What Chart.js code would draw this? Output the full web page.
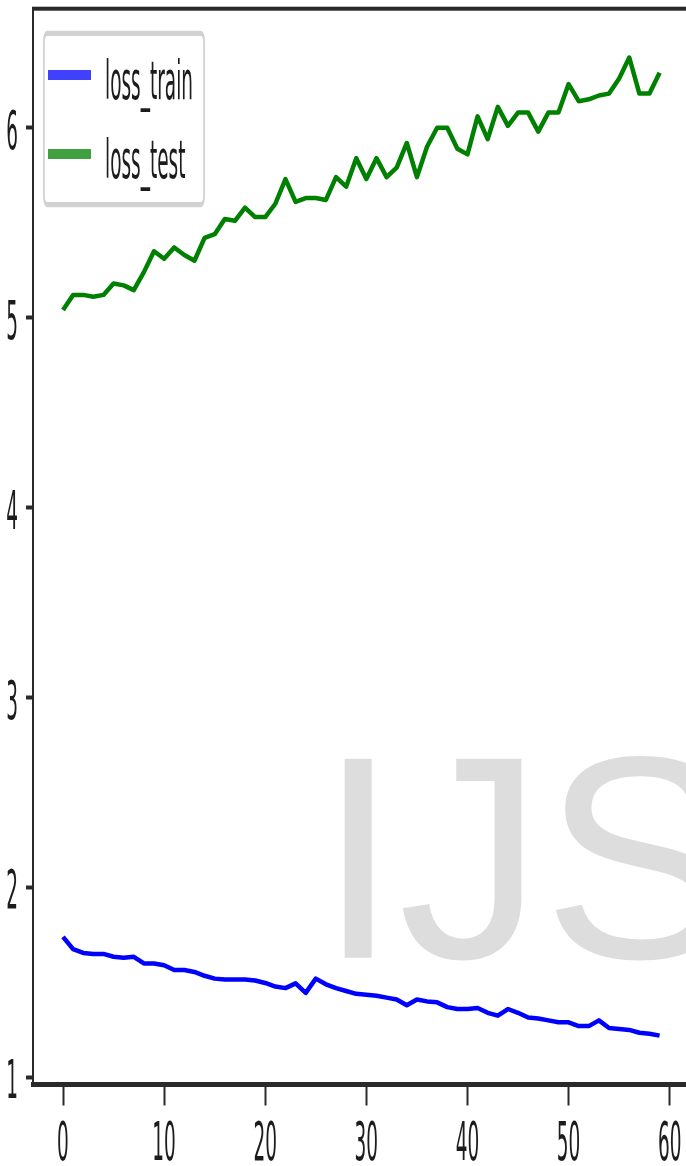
<!DOCTYPE html>
<html>
<head>
<meta charset="utf-8">
<script src="https://cdn.jsdelivr.net/npm/chart.js@4/dist/chart.umd.min.js"></script>
<style>
html,body{margin:0;padding:0;background:#fff;overflow:hidden}
canvas{display:block}
</style>
</head>
<body>
<canvas id="c" width="686" height="1166"></canvas>
<script>
// ---- data ----
const epochs = [0,1,2,3,4,5,6,7,8,9,10,11,12,13,14,15,16,17,18,19,20,21,22,23,24,25,26,27,28,29,30,31,32,33,34,35,36,37,38,39,40,41,42,43,44,45,46,47,48,49,50,51,52,53,54,55,56,57,58,59];
const lossTrain = [1.74,1.675,1.655,1.65,1.65,1.635,1.63,1.635,1.60,1.60,1.59,1.565,1.565,1.555,1.535,1.52,1.515,1.515,1.515,1.51,1.497,1.478,1.47,1.495,1.445,1.52,1.49,1.47,1.455,1.44,1.435,1.43,1.42,1.41,1.38,1.41,1.40,1.395,1.37,1.36,1.36,1.365,1.34,1.325,1.36,1.34,1.315,1.31,1.30,1.29,1.29,1.27,1.27,1.30,1.26,1.255,1.25,1.235,1.23,1.22];
const lossTest = [5.04,5.12,5.12,5.11,5.12,5.18,5.17,5.145,5.24,5.35,5.31,5.37,5.33,5.30,5.42,5.44,5.52,5.51,5.58,5.53,5.53,5.60,5.73,5.61,5.63,5.63,5.62,5.74,5.69,5.84,5.73,5.84,5.74,5.79,5.92,5.74,5.90,6.00,6.00,5.89,5.86,6.06,5.94,6.11,6.01,6.08,6.08,5.98,6.08,6.08,6.23,6.14,6.15,6.17,6.18,6.26,6.37,6.18,6.18,6.29];
const seriesLabels = ['loss_train', 'loss_test'];
const xTickValues = [0, 10, 20, 30, 40, 50, 60];
const yTickValues = [1, 2, 3, 4, 5, 6];
const watermarkText = 'IJS';

// ---- styling ----
const SX = 1.85, SY = 5.3;           // stretch of the original figure's text
const INK = '#1c1c1c';
const SPINE = '#2a2a2a';
const LINE_COLORS = ['#0000ff', '#008000'];
const HANDLE_COLORS = ['rgba(0,0,255,0.75)', 'rgba(0,128,0,0.75)'];

function stretchedText(ctx, text, x, y, align) {
  ctx.save();
  ctx.translate(x, y);
  ctx.scale(SX, SY);
  ctx.font = '10px "DejaVu Sans"';
  ctx.fillStyle = INK;
  ctx.textAlign = align;
  ctx.textBaseline = 'alphabetic';
  ctx.fillText(text, 0, 0);
  ctx.restore();
}

function roundRectPath(ctx, x, y, w, h, r) {
  ctx.beginPath();
  ctx.moveTo(x + r, y);
  ctx.arcTo(x + w, y, x + w, y + h, r);
  ctx.arcTo(x + w, y + h, x, y + h, r);
  ctx.arcTo(x, y + h, x, y, r);
  ctx.arcTo(x, y, x + w, y, r);
  ctx.closePath();
}

const decor = {
  id: 'decor',
  beforeDatasetsDraw(chart) {
    const ctx = chart.ctx;
    ctx.save();
    ctx.font = '289px "Liberation Sans"';
    ctx.fillStyle = '#dddddd';
    ctx.textAlign = 'left';
    ctx.textBaseline = 'alphabetic';
    ctx.fillText(watermarkText, 318, 957.7);
    ctx.restore();
  },
  afterDatasetsDraw(chart) {
    const ctx = chart.ctx;
    // legend frame
    const lx = 43, ly = 31, lw = 162, lh = 176;
    ctx.save();
    ctx.translate(lx, ly);
    ctx.scale(SX, SY);
    const bw = lw / SX, bh = lh / SY;
    roundRectPath(ctx, 0.5, 0.45, bw - 1, bh - 0.9, 1.6);
    ctx.fillStyle = 'rgba(255,255,255,0.8)';
    ctx.fill();
    ctx.strokeStyle = '#d2d2d2';
    ctx.lineWidth = 0.95;
    ctx.stroke();
    ctx.restore();
    chart.data.datasets.forEach((ds, i) => {
      ctx.save();
      ctx.fillStyle = HANDLE_COLORS[i];
      ctx.fillRect(48, 70 + i * 79, 43, 10);
      ctx.restore();
      stretchedText(ctx, ds.label, 105, 99 + i * 79, 'left');
    });
  },
  afterDraw(chart) {
    const ctx = chart.ctx;
    // top spine
    ctx.save();
    ctx.fillStyle = SPINE;
    ctx.fillRect(32, 6.7, chart.width - 32, 4);
    ctx.restore();
    // tick labels through the library's scales
    const xs = chart.scales.x, ys = chart.scales.y;
    xs.ticks.forEach(t => {
      stretchedText(ctx, String(t.label), xs.getPixelForValue(t.value), 1160, 'center');
    });
    ys.ticks.forEach(t => {
      stretchedText(ctx, String(t.label), 18, ys.getPixelForValue(t.value) + 21, 'right');
    });
  }
};

new Chart(document.getElementById('c'), {
  type: 'line',
  data: {
    datasets: [
      {
        label: seriesLabels[0],
        data: epochs.map((e, i) => ({x: e, y: lossTrain[i]})),
        borderColor: LINE_COLORS[0],
        backgroundColor: LINE_COLORS[0],
        borderWidth: 4.5,
        pointRadius: 0,
        tension: 0,
        borderJoinStyle: 'round',
        fill: false
      },
      {
        label: seriesLabels[1],
        data: epochs.map((e, i) => ({x: e, y: lossTest[i]})),
        borderColor: LINE_COLORS[1],
        backgroundColor: LINE_COLORS[1],
        borderWidth: 4.5,
        pointRadius: 0,
        tension: 0,
        borderJoinStyle: 'round',
        fill: false
      }
    ]
  },
  options: {
    responsive: false,
    animation: false,
    events: [],
    layout: { padding: { top: 8.6, left: 0, right: 0, bottom: 0 } },
    plugins: { legend: { display: false }, tooltip: { enabled: false } },
    scales: {
      x: {
        type: 'linear',
        min: -2.967,
        max: 61.61,
        afterBuildTicks: s => { s.ticks = xTickValues.map(v => ({ value: v })); },
        afterFit: s => { s.height = 81.5; },
        ticks: { display: false },
        grid: { display: true, drawOnChartArea: false, drawTicks: true, tickLength: 21, tickWidth: 2, tickColor: SPINE },
        border: { display: true, width: 5, color: SPINE }
      },
      y: {
        type: 'linear',
        min: 0.9625,
        max: 6.6275,
        afterBuildTicks: s => { s.ticks = yTickValues.map(v => ({ value: v })); },
        afterFit: s => { s.width = 33; },
        ticks: { display: false },
        grid: { display: true, drawOnChartArea: false, drawTicks: true, tickLength: 7, tickWidth: 4, tickColor: SPINE },
        border: { display: true, width: 2, color: SPINE }
      }
    }
  },
  plugins: [decor]
});
</script>
</body>
</html>
